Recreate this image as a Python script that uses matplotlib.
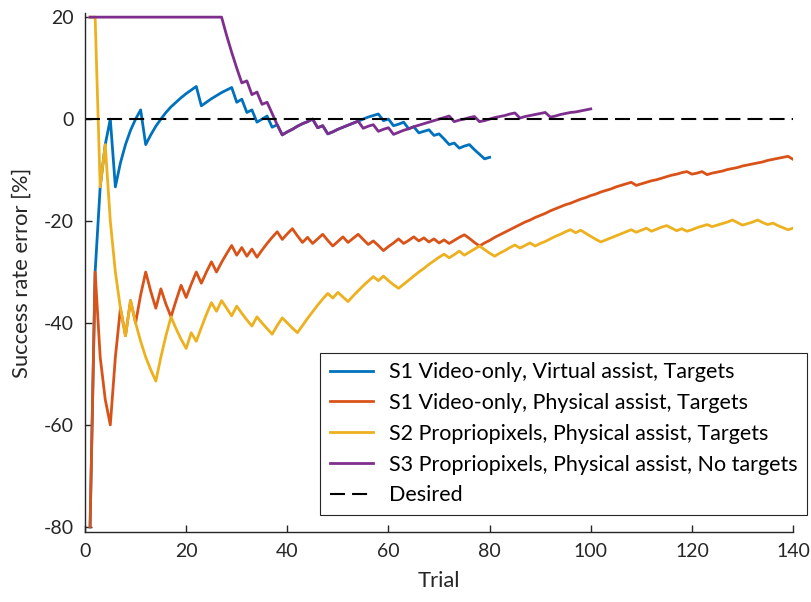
import numpy as np
import matplotlib
matplotlib.use("Agg")
import matplotlib.pyplot as plt

plt.rcParams['font.family'] = ['Lato', 'DejaVu Sans']
plt.rcParams['axes.unicode_minus'] = False

# success rate error [%] per trial
s1_virtual = [
    -80, -30, -13.3, -5, 0, -13.3, -8.6, -5, -2.2, 0,
    1.8, -5, -3.1, -1.4, 0, 1.3, 2.4, 3.3, 4.2, 5,
    5.7, 6.4, 2.6, 3.3, 4, 4.6, 5.2, 5.7, 6.2, 3.3,
    3.9, 1.3, 1.8, -0.6, 0, 0.6, -1.6, -1.1, -3.1, -2.5,
    -2.0, -1.4, -0.9, -0.5, 0, -1.7, -1.3, -2.9, -2.5, -2,
    -1.6, -1.2, -0.8, -0.4, 0, 0.4, 0.7, 1.0, -0.3, 0,
    -1.3, -1.0, -0.6, -1.9, -1.5, -2.7, -2.4, -2.1, -3.2, -2.9,
    -3.9, -5, -4.7, -5.7, -5.3, -5, -6, -6.9, -7.8, -7.5,
]

s1_physical = [
    -80, -30, -46.7, -55, -60, -46.7, -37.1, -42.5, -35.6, -40,
    -34.5, -30, -33.8, -37.1, -33.3, -36.3, -38.8, -35.6, -32.6, -35,
    -32.4, -30, -32.2, -30, -28, -30, -28.1, -26.4, -24.8, -26.7,
    -25.2, -26.9, -25.5, -27.1, -25.7, -24.4, -23.2, -22.1, -23.6, -22.5,
    -21.5, -22.9, -24.2, -23.2, -24.4, -23.5, -22.6, -23.8, -24.9, -24,
    -23.1, -24.2, -23.4, -22.6, -23.6, -24.6, -23.9, -24.8, -25.8, -25,
    -24.3, -23.5, -24.4, -23.8, -23.1, -23.9, -23.3, -24.1, -23.5, -24.3,
    -23.7, -24.4, -23.8, -23.2, -22.7, -23.4, -24.2, -24.9, -24.3, -23.8,
    -23.2, -22.7, -22.2, -21.7, -21.2, -20.7, -20.2, -19.8, -19.3, -18.9,
    -18.5, -18.0, -17.6, -17.2, -16.8, -16.5, -16.1, -15.7, -15.4, -15.0,
    -14.7, -14.3, -14.0, -13.7, -13.3, -13.0, -12.7, -12.4, -13.0, -12.7,
    -12.4, -12.1, -11.9, -11.6, -11.3, -11.0, -10.8, -10.5, -10.3, -10.8,
    -10.6, -10.3, -10.9, -10.6, -10.4, -10.2, -9.9, -9.7, -9.5, -9.2,
    -9.0, -8.8, -8.6, -8.4, -8.1, -7.9, -7.7, -7.5, -7.3, -7.9,
]

s2_proprio = [
    20, 20, -13.3, -5, -20, -30, -37.1, -42.5, -35.6, -40,
    -43.6, -46.7, -49.2, -51.4, -46.7, -42.5, -38.8, -41.1, -43.2, -45,
    -41.9, -43.6, -40.9, -38.3, -36, -37.7, -35.6, -37.1, -38.6, -36.7,
    -38.1, -39.4, -40.6, -38.8, -40, -41.1, -42.2, -40.5, -39.0, -40,
    -41.0, -41.9, -40.5, -39.1, -37.8, -36.5, -35.3, -34.2, -35.1, -34,
    -34.9, -35.8, -34.7, -33.7, -32.7, -31.8, -30.9, -31.7, -30.8, -31.7,
    -32.5, -33.2, -32.4, -31.6, -30.8, -30, -29.3, -28.5, -27.8, -27.1,
    -26.5, -27.2, -26.6, -25.9, -26.7, -26.1, -25.5, -24.9, -25.6, -26.3,
    -26.9, -26.3, -25.8, -25.2, -24.7, -25.3, -24.8, -24.3, -24.9, -24.4,
    -24.0, -23.5, -23.0, -22.6, -22.1, -21.7, -22.3, -21.8, -22.4, -23,
    -23.6, -24.1, -23.7, -23.3, -22.9, -22.5, -22.1, -21.7, -22.2, -21.8,
    -21.4, -22.0, -21.6, -21.2, -20.9, -21.4, -21.9, -21.5, -22.0, -21.7,
    -21.3, -21.0, -20.7, -21.1, -20.8, -20.5, -20.2, -19.8, -20.3, -20.8,
    -20.5, -20.2, -19.8, -20.3, -20.7, -20.4, -20.9, -21.3, -21.7, -21.4,
]

s3_no_targets = [
    20, 20, 20, 20, 20, 20, 20, 20, 20, 20,
    20, 20, 20, 20, 20, 20, 20, 20, 20, 20,
    20, 20, 20, 20, 20, 20, 20, 16.4, 13.1, 10,
    7.1, 7.5, 4.8, 5.3, 2.9, 3.3, 1.1, -1.1, -3.1, -2.5,
    -2.0, -1.4, -0.9, -0.5, 0, -1.7, -1.3, -2.9, -2.5, -2,
    -1.6, -1.2, -0.8, -0.4, -1.8, -1.4, -1.1, -2.4, -2.0, -1.7,
    -3.0, -2.6, -2.2, -1.9, -1.5, -1.2, -0.9, -0.6, -0.3, 0,
    0.3, 0.6, -0.5, -0.2, 0, 0.3, 0.5, -0.5, -0.3, 0,
    0.3, 0.5, 0.7, 1.0, 1.2, 0.2, 0.5, 0.7, 0.9, 1.1,
    1.3, 0.4, 0.6, 0.9, 1.1, 1.3, 1.4, 1.6, 1.8, 2.0,
]

labels = [
    "S1 Video-only, Virtual assist, Targets",
    "S1 Video-only, Physical assist, Targets",
    "S2 Propriopixels, Physical assist, Targets",
    "S3 Propriopixels, Physical assist, No targets",
    "Desired",
]
colors = ["#0072BD", "#D95319", "#EDB120", "#7E2F8E"]

fig = plt.figure(figsize=(8.12, 6.02), dpi=100)
ax = fig.add_axes([0.1047, 0.1163, 0.872, 0.862])

for series, col, lab in zip([s1_virtual, s1_physical, s2_proprio, s3_no_targets], colors, labels):
    trials = np.arange(1, len(series) + 1)
    ax.plot(trials, series, color=col, lw=2.0, label=lab)

ax.plot([0, 140], [0, 0], color='black', lw=1.5, dashes=(7.2, 3.4), label=labels[4])

ax.set_xlim(0, 140)
ax.set_ylim(-81, 20.8)
ax.set_xticks(np.arange(0, 141, 20))
ax.set_yticks(np.arange(-80, 21, 20))

for s in ['top', 'right']:
    ax.spines[s].set_visible(False)
for s in ['left', 'bottom']:
    ax.spines[s].set_color('#262626')
    ax.spines[s].set_linewidth(1.0)
ax.tick_params(direction='in', length=5, width=1.0, colors='#262626', labelsize=14, pad=8)

ax.set_xlabel('Trial', fontsize=15.8, color='#262626', labelpad=8)
ax.set_ylabel('Success rate error [%]', fontsize=15.8, color='#262626', labelpad=9)

leg = ax.legend(loc='lower left', bbox_to_anchor=(0.394, 0.1445), bbox_transform=fig.transFigure,
                borderaxespad=0, fontsize=15.5, fancybox=False, framealpha=1,
                edgecolor='#262626', handlelength=2.0, handletextpad=0.75,
                borderpad=0.45, labelspacing=0.5)
leg.get_frame().set_linewidth(0.8)

fig.savefig('out.png', dpi=100)
